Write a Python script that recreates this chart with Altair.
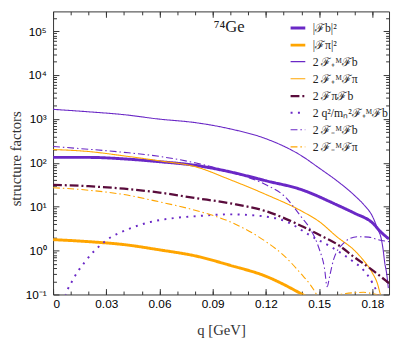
import altair as alt
import pandas as pd

# ---------------- data ----------------
Q_MAX = 0.1894
Y_MIN, Y_MAX = 0.1, 2.82e5

labels = [
    "|ℱb|²",
    "|ℱπ|²",
    "2 ℱ₊ᴹℱb",
    "2 ℱ₊ᴹℱπ",
    "2 ℱπℱb",
    "2 q²/mₙ²ℱ₊ᴹℱb",
    "2 ℱ₋ᴹℱb",
    "2 ℱ₋ᴹℱπ",
]

q_fb2 = [0, 0.02, 0.04, 0.06, 0.08, 0.10, 0.12, 0.14, 0.16, 0.17, 0.18, 0.185, 0.1894]
v_fb2 = [133, 133, 123, 106, 88, 62, 39, 24.5, 11, 7.1, 4.3, 2.6, 1.85]

q_fpi2 = [0, 0.02, 0.04, 0.06, 0.08, 0.10, 0.12, 0.14, 0.15]
v_fpi2 = [1.78, 1.60, 1.37, 1.04, 0.76, 0.46, 0.26, 0.103, 0.06]

q_pfb = [0, 0.02, 0.04, 0.06, 0.08, 0.10, 0.12, 0.14, 0.15, 0.16, 0.17, 0.175, 0.18,
         0.183, 0.185, 0.186, 0.187, 0.188, 0.189]
v_pfb = [1656, 1455, 1250, 990, 826, 592, 354, 145, 76, 39, 18, 11.3, 6.1,
         3.1, 1.87, 1.1, 0.52, 0.31, 0.14]

q_pfpi = [0, 0.02, 0.04, 0.06, 0.08, 0.10, 0.12, 0.14, 0.15, 0.16, 0.17, 0.175, 0.18,
          0.183, 0.1845, 0.186]
v_pfpi = [201, 181, 144, 111, 82, 41, 19, 8, 4.6, 2.07, 1.0, 0.6, 0.31,
          0.17, 0.1, 0.06]

q_pifb = [0, 0.02, 0.04, 0.06, 0.08, 0.10, 0.12, 0.14, 0.15, 0.16, 0.17, 0.18, 0.1894]
v_pifb = [31.6, 29.3, 25.7, 21, 15.8, 11.9, 7.9, 3.65, 2.29, 1.41, 0.70, 0.36, 0.18]

q_q2 = [0.004, 0.0072, 0.011, 0.0182, 0.029, 0.0425, 0.055, 0.068, 0.081, 0.099,
        0.118, 0.132, 0.145, 0.158, 0.169, 0.175, 0.18, 0.183, 0.185]
v_q2 = [0.03, 0.1, 0.21, 0.57, 1.6, 3.1, 4.5, 5.5, 6.1, 6.7,
        6.1, 4.5, 2.2, 1.13, 0.57, 0.36, 0.185, 0.1, 0.05]

q_mfb = [0, 0.02, 0.04, 0.06, 0.08, 0.10, 0.12, 0.13, 0.14, 0.145, 0.15, 0.153, 0.1545,
         0.156, 0.158, 0.16, 0.163, 0.167, 0.172, 0.178, 0.183, 0.1894]
v_mfb = [235, 204, 173, 140, 100, 62, 31.6, 18, 5.8, 3.1, 1.1, 0.4, 0.15,
         0.27, 0.6, 0.96, 1.37, 1.87, 2.07, 2.03, 1.78, 1.6]

q_mfpi = [0, 0.02, 0.04, 0.06, 0.08, 0.10, 0.12, 0.13, 0.14, 0.145, 0.1485, 0.151, 0.153,
          0.156, 0.16, 0.165, 0.17, 0.175, 0.18, 0.184, 0.1894]
v_mfpi = [27, 23.8, 18.9, 12.9, 8.3, 4.5, 1.6, 0.78, 0.29, 0.167, 0.1, 0.06, 0.03,
          0.07, 0.095, 0.105, 0.11, 0.112, 0.105, 0.095, 0.07]

series = [
    (q_fb2, v_fb2), (q_fpi2, v_fpi2), (q_pfb, v_pfb), (q_pfpi, v_pfpi),
    (q_pifb, v_pifb), (q_q2, v_q2), (q_mfb, v_mfb), (q_mfpi, v_mfpi),
]

x_major = [0, 0.03, 0.06, 0.09, 0.12, 0.15, 0.18]
x_minor = [round(0.01 * i, 2) for i in range(0, 19)]
y_major = [0.1, 1, 10, 100, 1000, 10000, 100000]
y_minor = [k * 10 ** n for n in range(-1, 6) for k in range(2, 10) if k * 10 ** n <= Y_MAX]

# ---------------- styles ----------------
PURPLE = "#6a28c6"
ORANGE = "#ffa500"
MAROON = "#5a0c3c"
colors = [PURPLE, ORANGE, PURPLE, ORANGE, MAROON, PURPLE, PURPLE, ORANGE]
widths = [3, 3, 1.1, 1.1, 2.3, 2.0, 1.1, 1.1]
dashes = [[1, 0], [1, 0], [1, 0], [1, 0], [9, 3, 2, 3], [2, 5.5], [7, 3, 1.5, 3], [7, 3, 1.5, 3]]

rows = []
for name, (qs, vs) in zip(labels, series):
    for i, (q, v) in enumerate(zip(qs, vs)):
        rows.append({"series": name, "q": q, "v": v, "i": i})
df = pd.DataFrame(rows)

W, H = 343, 289
TICK_C = "#333"

x_scale = alt.Scale(domain=[0, Q_MAX], nice=False, zero=False)
y_scale = alt.Scale(type="log", domain=[Y_MIN, Y_MAX], nice=False)

legend = alt.Legend(
    title=None, orient="none", legendX=241, legendY=8,
    symbolType="stroke", symbolSize=225, labelFont="Liberation Serif",
    labelFontSize=12, labelColor="#222", rowPadding=2.4, labelOffset=6,
    labelLimit=200,
)

y_expr = ("datum.value < 0.5 ? '10⁻¹' : datum.value < 5 ? '10⁰' : datum.value < 50 ? '10¹' : "
          "datum.value < 500 ? '10²' : datum.value < 5000 ? '10³' : datum.value < 50000 ? '10⁴' : '10⁵'")

lines = alt.Chart(df).mark_line(clip=True, interpolate="monotone").encode(
    x=alt.X("q:Q", scale=x_scale, axis=alt.Axis(
        values=x_major, labelExpr="datum.value == 0 ? '0' : format(datum.value, '.2f')",
        ticks=False, domain=False, grid=False, labelPadding=4,
        labelFont="Liberation Sans", labelFontSize=12, labelColor="#000",
        title="q [GeV]", titleFont="Liberation Serif", titleFontSize=15,
        titleFontWeight="normal", titleColor="#333", titleX=171.5, titleY=36,
        titleBaseline="middle")),
    y=alt.Y("v:Q", scale=y_scale, axis=alt.Axis(
        values=y_major, labelExpr=y_expr, ticks=False, domain=False, grid=False,
        labelPadding=7, labelFont="Liberation Sans", labelFontSize=12, labelColor="#000",
        title="structure factors", titleFont="Liberation Serif", titleFontSize=15,
        titleFontWeight="normal", titleColor="#333", titleX=-38, titleY=150,
        titleBaseline="middle")),
    color=alt.Color("series:N", scale=alt.Scale(domain=labels, range=colors), legend=legend),
    strokeWidth=alt.StrokeWidth("series:N", scale=alt.Scale(type="ordinal", domain=labels, range=widths), legend=legend),
    strokeDash=alt.StrokeDash("series:N", scale=alt.Scale(domain=labels, range=dashes), legend=legend),
    order="i:Q",
)


def tick_layer(xaxis, yaxis):
    return alt.Chart(df).mark_point(opacity=0, size=1, clip=True).encode(
        x=alt.X("q:Q", scale=x_scale, axis=xaxis),
        y=alt.Y("v:Q", scale=y_scale, axis=yaxis),
    )


def tick_axis(orient, offset, values, size):
    return alt.Axis(orient=orient, offset=offset, values=values, labels=False, ticks=True,
                    tickSize=size, tickColor=TICK_C, tickWidth=1, domain=False, grid=False,
                    title=None)


t1 = tick_layer(tick_axis("top", -H, x_major, 6), tick_axis("right", -W, y_major, 6))
t2 = tick_layer(tick_axis("top", -H, x_minor, 3.5), tick_axis("right", -W, y_minor, 3.5))
t3 = tick_layer(tick_axis("bottom", -H, x_major, 6), tick_axis("left", -W, y_major, 6))
t4 = tick_layer(tick_axis("bottom", -H, x_minor, 3.5), tick_axis("left", -W, y_minor, 3.5))

note = alt.Chart(pd.DataFrame({"t": ["⁷⁴Ge"]})).mark_text(
    align="left", baseline="middle", font="Liberation Serif", fontSize=17, color="#222"
).encode(x=alt.value(164), y=alt.value(16), text="t:N")

chart = alt.layer(lines, t1, t2, t3, t4, note).resolve_axis(
    x="independent", y="independent"
).properties(
    width=W, height=H,
    padding={"left": 46, "top": 0, "right": 2, "bottom": 44},
    autosize=alt.AutoSizeParams(type="none"),
).configure_view(stroke="#333", strokeWidth=1)

chart.save("out.html", embed_options={"renderer": "svg", "actions": False})
